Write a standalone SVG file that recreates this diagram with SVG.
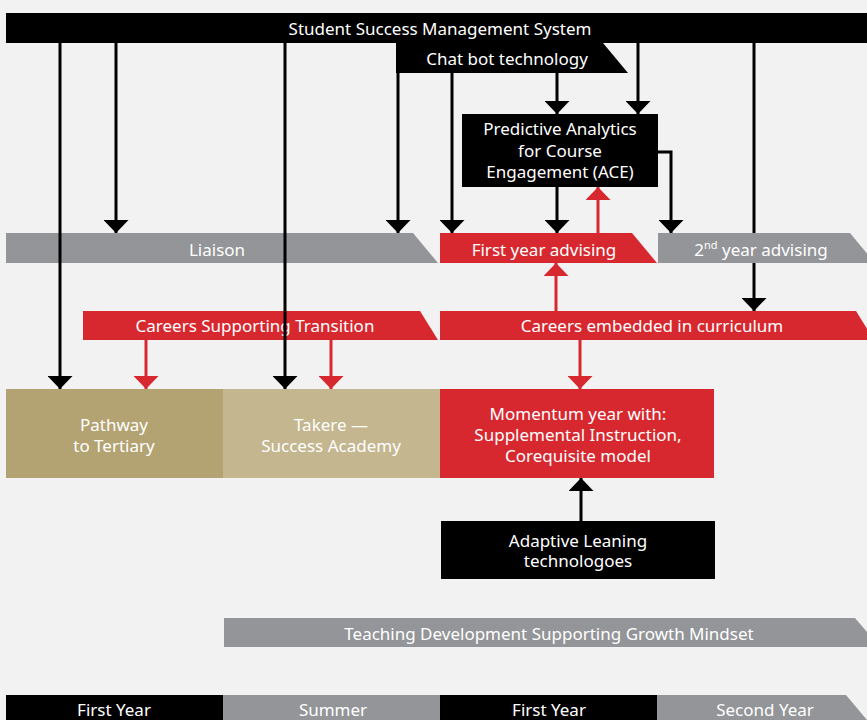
<svg xmlns="http://www.w3.org/2000/svg" width="867" height="720" viewBox="0 0 867 720">
  <defs>
    <style>
      .t { font-family: "Noto Sans", "Open Sans", sans-serif; font-size: 17px; fill: #ffffff; text-anchor: middle; }
      .blk { fill: #000000; }
      .gry { fill: #939598; }
      .red { fill: #d8282f; }
      .gold1 { fill: #b3a372; }
      .gold2 { fill: #c4b68f; }
      .lk { fill: none; stroke: #000000; stroke-width: 3; }
      .lr { fill: none; stroke: #d8282f; stroke-width: 3; }
    </style>
    <marker id="ak" markerUnits="userSpaceOnUse" viewBox="0 -12.5 13 25" refX="13" refY="0" markerWidth="13" markerHeight="25" orient="auto">
      <path d="M0,-12.5 L13,0 L0,12.5 Z" fill="#000000"/>
    </marker>
    <marker id="ar" markerUnits="userSpaceOnUse" viewBox="0 -12.5 13 25" refX="13" refY="0" markerWidth="13" markerHeight="25" orient="auto">
      <path d="M0,-12.5 L13,0 L0,12.5 Z" fill="#d8282f"/>
    </marker>
  </defs>
  <rect x="0" y="0" width="867" height="720" fill="#f2f2f2"/>

  <!-- line behind 2nd year advising -->
  <g id="connectors-back">
    <path class="lk" d="M754 43 V240"/>
  </g>

  <g id="ssms">
    <rect class="blk" x="6" y="13" width="861" height="30"/>
    <text class="t" x="440" y="35">Student Success Management System</text>
  </g>
  <g id="chatbot">
    <polygon class="blk" points="396,43 603,43 628,73 396,73"/>
    <text class="t" x="507" y="65">Chat bot technology</text>
  </g>
  <g id="ace">
    <rect class="blk" x="462" y="114" width="196" height="73"/>
    <text class="t" x="560" y="135">Predictive Analytics</text>
    <text class="t" x="560" y="156.5">for Course</text>
    <text class="t" x="560" y="178">Engagement (ACE)</text>
  </g>
  <g id="liaison">
    <polygon class="gry" points="6,233 413,233 438,263 6,263"/>
    <text class="t" x="217" y="256">Liaison</text>
  </g>
  <g id="first-year-advising">
    <polygon class="red" points="440,233 632,233 657,263 440,263"/>
    <text class="t" x="544" y="256">First year advising</text>
  </g>
  <g id="second-year-advising">
    <polygon class="gry" points="658,233 850,233 875,263 658,263"/>
    <text class="t" x="761" y="256">2<tspan font-size="11" dy="-7">nd</tspan><tspan dy="7"> year advising</tspan></text>
  </g>
  <g id="careers-transition">
    <polygon class="red" points="83,311 420,311 438,340 83,340"/>
    <text class="t" x="255" y="332">Careers Supporting Transition</text>
  </g>
  <g id="careers-curriculum">
    <polygon class="red" points="440,311 856,311 874,340 440,340"/>
    <text class="t" x="652" y="332">Careers embedded in curriculum</text>
  </g>
  <g id="pathway">
    <rect class="gold1" x="6" y="389" width="217" height="89"/>
    <text class="t" x="114" y="430.5">Pathway</text>
    <text class="t" x="114" y="451.5">to Tertiary</text>
  </g>
  <g id="takere">
    <rect class="gold2" x="223" y="389" width="217" height="89"/>
    <text class="t" x="331" y="430.5">Takere —</text>
    <text class="t" x="331" y="451.5">Success Academy</text>
  </g>
  <g id="momentum">
    <rect class="red" x="440" y="389" width="274" height="89"/>
    <text class="t" x="578" y="420">Momentum year with:</text>
    <text class="t" x="578" y="441">Supplemental Instruction,</text>
    <text class="t" x="578" y="462">Corequisite model</text>
  </g>
  <g id="adaptive">
    <rect class="blk" x="441" y="521" width="274" height="58"/>
    <text class="t" x="578" y="546.5">Adaptive Leaning</text>
    <text class="t" x="578" y="567">technologoes</text>
  </g>
  <g id="teaching">
    <polygon class="gry" points="224,618 855,618 880,647 224,647"/>
    <text class="t" x="549" y="640">Teaching Development Supporting Growth Mindset</text>
  </g>
  <g id="timeline">
    <rect class="blk" x="6" y="695" width="217" height="25"/>
    <rect class="gry" x="223" y="695" width="217" height="25"/>
    <rect class="blk" x="440" y="695" width="217" height="25"/>
    <polygon class="gry" points="657,695 846,695 867,720 657,720"/>
    <text class="t" x="114" y="716">First Year</text>
    <text class="t" x="333" y="716">Summer</text>
    <text class="t" x="549" y="716">First Year</text>
    <text class="t" x="765" y="716">Second Year</text>
  </g>

  <g id="connectors">
    <path class="lk" d="M60 43 V389" marker-end="url(#ak)"/>
    <path class="lk" d="M116 43 V233" marker-end="url(#ak)"/>
    <path class="lk" d="M285 43 V389" marker-end="url(#ak)"/>
    <path class="lk" d="M398 43 V233" marker-end="url(#ak)"/>
    <path class="lk" d="M452 73 V233" marker-end="url(#ak)"/>
    <path class="lk" d="M557 73 V114" marker-end="url(#ak)"/>
    <path class="lk" d="M638 43 V114" marker-end="url(#ak)"/>
    <path class="lk" d="M557 187 V233" marker-end="url(#ak)"/>
    <path class="lk" d="M658 152 H671 V233" marker-end="url(#ak)"/>
    <path class="lk" d="M754 263 V311" marker-end="url(#ak)"/>
    <path class="lk" d="M581 521 V478" marker-end="url(#ak)"/>
    <path class="lr" d="M598 233 V187" marker-end="url(#ar)"/>
    <path class="lr" d="M556 311 V263" marker-end="url(#ar)"/>
    <path class="lr" d="M146 340 V389" marker-end="url(#ar)"/>
    <path class="lr" d="M331 340 V389" marker-end="url(#ar)"/>
    <path class="lr" d="M580 340 V389" marker-end="url(#ar)"/>
  </g>
</svg>
